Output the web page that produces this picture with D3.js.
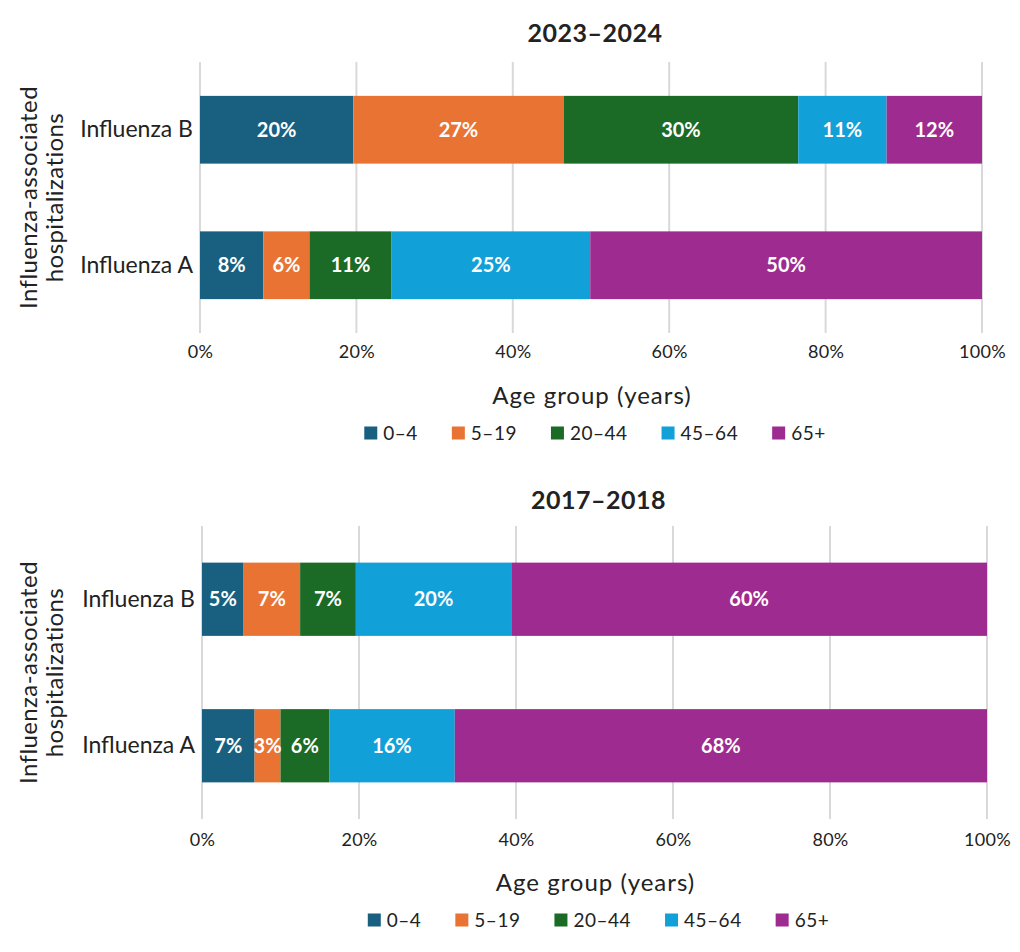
<!DOCTYPE html>
<html lang="en">
<head>
<meta charset="utf-8">
<title>Influenza-associated hospitalizations by age group</title>
<script src="https://cdnjs.cloudflare.com/ajax/libs/d3/7.8.5/d3.min.js"></script>
<style>
  body { margin: 0; background: #fff; }
  svg { display: block; font-family: Lato, "Open Sans", sans-serif; }
</style>
</head>
<body>
<div id="chart"></div>
<script>
// data (share of hospitalizations, %)
const ageGroups = ["0\u20134", "5\u201319", "20\u201344", "45\u201364", "65+"];
const colors = ["#185F80", "#E97333", "#1B6A25", "#12A0D8", "#9E2B90"];
const types = ["Influenza B", "Influenza A"];
const ticks = [0, 20, 40, 60, 80, 100];

const season2324 = "2023\u20132024";
const fluB_2324 = [19.6, 26.9, 30.0, 11.3, 12.2];
const fluA_2324 = [8.1, 5.9, 10.5, 25.4, 50.1];
const labelsB_2324 = ["20%", "27%", "30%", "11%", "12%"];
const labelsA_2324 = ["8%", "6%", "11%", "25%", "50%"];

const season1718 = "2017\u20132018";
const fluB_1718 = [5.3, 7.2, 7.1, 19.8, 60.6];
const fluA_1718 = [6.7, 3.3, 6.2, 16.0, 67.8];
const labelsB_1718 = ["5%", "7%", "7%", "20%", "60%"];
const labelsA_1718 = ["7%", "3%", "6%", "16%", "68%"];

const W = 1020, H = 952;
const svg = d3.select("#chart").append("svg").attr("width", W).attr("height", H);

function panel(opt) {
  const g = svg.append("g");
  const x = d3.scaleLinear().domain([0, 100]).range([opt.x0, opt.x1]);
  const y = d3.scaleBand().domain(types).range([opt.top, opt.bottom])
    .paddingInner(0.5).paddingOuter(0.25);
  const cx = (opt.x0 + opt.x1) / 2;

  // title
  g.append("text").attr("x", cx + 4).attr("y", opt.titleY)
    .attr("text-anchor", "middle").attr("font-size", 25).attr("font-weight", 700)
    .attr("letter-spacing", 0.5).attr("fill", "#222").text(opt.title);

  // gridlines
  g.append("g").selectAll("line").data(ticks).join("line")
    .attr("x1", d => x(d)).attr("x2", d => x(d))
    .attr("y1", opt.top).attr("y2", opt.bottom)
    .attr("stroke", "#d9d9d9").attr("stroke-width", 2);

  // x axis tick labels
  const xAxis = d3.axisBottom(x).tickValues(ticks).tickSize(0).tickPadding(0)
    .tickFormat(d => d + "%");
  const ax = g.append("g").attr("transform", `translate(0,${opt.tickY})`).call(xAxis);
  ax.select(".domain").remove();
  ax.selectAll("text").attr("font-size", 18).attr("fill", "#222")
    .attr("font-family", "Lato, sans-serif").attr("letter-spacing", 0.3).attr("dy", "0.35em");

  // y axis category labels
  const yAxis = d3.axisLeft(y).tickSize(0).tickPadding(7);
  const ay = g.append("g").attr("transform", `translate(${opt.x0},0)`).call(yAxis);
  ay.select(".domain").remove();
  ay.selectAll("text").attr("font-size", 23).attr("fill", "#222")
    .attr("font-family", "Lato, sans-serif");

  // stacked bars
  const rows = [
    { type: types[0], vals: opt.b, labels: opt.bl },
    { type: types[1], vals: opt.a, labels: opt.al }
  ];
  rows.forEach(r => {
    let acc = 0;
    const segs = r.vals.map((v, i) => {
      const s = { start: acc, end: acc + v, i: i, label: r.labels[i] };
      acc += v;
      return s;
    });
    const rg = g.append("g");
    rg.selectAll("rect").data(segs).join("rect")
      .attr("x", d => x(d.start)).attr("width", d => x(d.end) - x(d.start))
      .attr("y", y(r.type)).attr("height", y.bandwidth())
      .attr("fill", d => colors[d.i]);
    rg.selectAll("text").data(segs).join("text")
      .attr("x", d => (x(d.start) + x(d.end)) / 2)
      .attr("y", y(r.type) + y.bandwidth() / 2)
      .attr("dy", "0.35em").attr("text-anchor", "middle")
      .attr("font-size", 20).attr("font-weight", 700).attr("fill", "#fff")
      .text(d => d.label);
  });

  // y title
  const yt = g.append("text")
    .attr("transform", `translate(41,${(opt.top + opt.bottom) / 2}) rotate(-90)`)
    .attr("text-anchor", "middle").attr("font-size", 24).attr("letter-spacing", 0.4)
    .attr("fill", "#222");
  yt.append("tspan").attr("x", 0).attr("dy", "-0.15em").text("Influenza-associated");
  yt.append("tspan").attr("x", 0).attr("dy", "1.05em").text("hospitalizations");

  // x title
  g.append("text").attr("x", cx + 1).attr("y", opt.axisTitleY).attr("dy", "0.35em")
    .attr("text-anchor", "middle").attr("font-size", 24).attr("letter-spacing", 1)
    .attr("fill", "#222").text("Age group (years)");

  // legend
  const lg = g.append("g");
  const items = lg.selectAll("g").data(ageGroups).join("g");
  items.append("rect").attr("width", 13).attr("height", 13).attr("y", -6.5)
    .attr("fill", (d, i) => colors[i]);
  items.append("text").attr("x", 19).attr("dy", "0.35em").attr("font-size", 19)
    .attr("letter-spacing", 0.5).attr("fill", "#222").text(d => d);
  let lx = 0;
  items.each(function () {
    const w = this.getBBox().width;
    d3.select(this).attr("transform", `translate(${lx},0)`);
    lx += w + 34;
  });
  const total = lx - 34;
  lg.attr("transform", `translate(${cx + 4 - total / 2},${opt.legendY})`);
}

panel({
  title: season2324, titleY: 42, x0: 200, x1: 982, top: 62, bottom: 333,
  tickY: 352, axisTitleY: 396, legendY: 433,
  b: fluB_2324, a: fluA_2324, bl: labelsB_2324, al: labelsA_2324
});
panel({
  title: season1718, titleY: 509, x0: 202, x1: 987, top: 526, bottom: 819,
  tickY: 840, axisTitleY: 883, legendY: 920,
  b: fluB_1718, a: fluA_1718, bl: labelsB_1718, al: labelsA_1718
});
</script>
</body>
</html>
